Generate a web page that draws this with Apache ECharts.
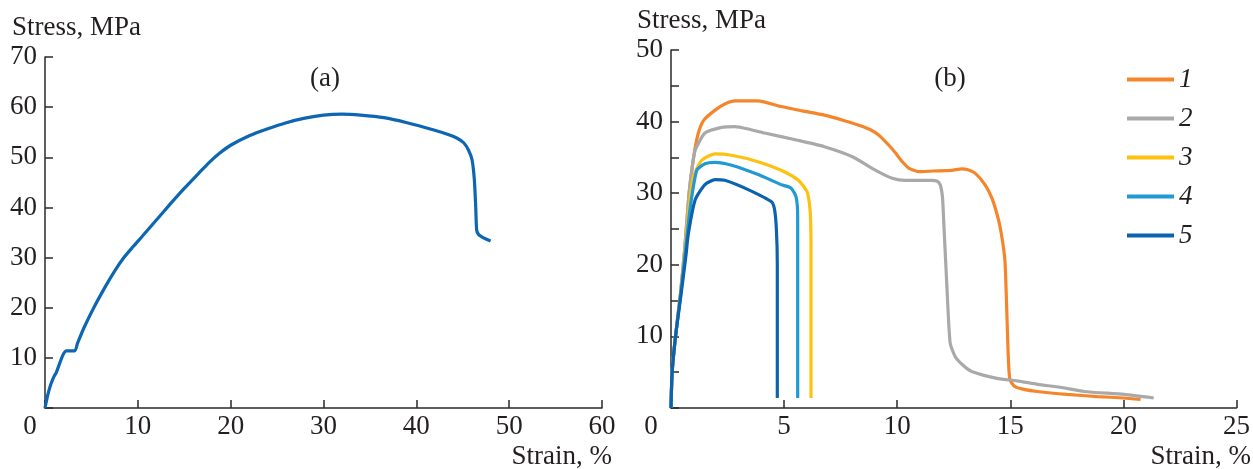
<!DOCTYPE html>
<html>
<head>
<meta charset="utf-8">
<script src="https://cdn.jsdelivr.net/npm/echarts@6/dist/echarts.min.js"></script>
<style>
html,body{margin:0;padding:0;background:#fff;}
#chart{width:1253px;height:469px;}
</style>
</head>
<body>
<div id="chart"></div>
<script>
// ---- data (strain %, stress MPa) ----
const curveA = [[0,0],[0.3,2.6],[0.6,4.6],[1.0,6.4],[1.2,7.0],[1.6,9.0],[2.0,10.8],[2.3,11.4],[3.2,11.4],[3.5,12.9],[4.2,16],[5.2,19.8],[6.5,24.2],[7.5,27.3],[8.5,30],[9.5,32.2],[10.5,34.3],[12,37.5],[13.5,40.7],[15,43.8],[16.5,46.7],[17.7,49],[18.8,50.8],[20,52.4],[22,54.3],[24,55.7],[26,56.9],[28,57.8],[30,58.4],[32,58.6],[34,58.4],[36.5,57.9],[39,56.9],[41.8,55.5],[43.5,54.5],[44.4,53.8],[45.1,52.9],[45.6,51.5],[46.0,49.5],[46.25,45.5],[46.4,40],[46.5,35.5],[46.7,34.6],[47.0,34.2],[47.5,33.7],[48.0,33.3]];

const curve1 = [[0,0],[0.05,5],[0.2,10],[0.42,16],[0.6,22],[0.8,30],[1.0,35],[1.2,38.3],[1.45,40.2],[1.95,41.6],[2.4,42.5],[2.82,42.9],[3.85,42.9],[4.87,42.1],[5.8,41.5],[6.78,40.9],[7.6,40.2],[8.31,39.5],[8.8,38.9],[9.19,38.1],[9.6,36.8],[9.93,35.6],[10.2,34.5],[10.51,33.5],[10.95,33.0],[11.6,33.1],[12.41,33.2],[12.85,33.4],[13.1,33.3],[13.44,32.8],[13.88,31.2],[14.2,29.2],[14.46,26.5],[14.6,24.4],[14.76,20.7],[14.83,15.1],[14.9,8.1],[14.98,4.0],[15.2,3.0],[15.6,2.6],[16.2,2.3],[17.5,1.9],[18.85,1.6],[20.0,1.4],[20.76,1.2]];
const curve2 = [[0,0],[0.05,5],[0.2,10],[0.42,16],[0.6,22],[0.8,30],[0.95,34],[1.07,36.0],[1.5,38.4],[2.24,39.2],[2.82,39.3],[3.5,38.9],[4.14,38.4],[5.6,37.4],[6.78,36.5],[8.02,35.1],[9.05,33.2],[9.78,32.1],[10.36,31.8],[11.53,31.8],[11.75,31.7],[11.9,31.2],[12.0,29.5],[12.05,26.5],[12.19,17.4],[12.34,9.1],[12.56,7.2],[12.9,6.0],[13.29,5.1],[14.46,4.1],[15.3,3.8],[16.22,3.3],[17.2,2.9],[18.27,2.3],[20.03,1.9],[21.34,1.4]];
const curve3 = [[0,0],[0.05,5],[0.2,10],[0.42,16],[0.62,22],[0.8,28],[0.99,32.3],[1.36,34.6],[1.95,35.5],[2.68,35.3],[3.85,34.4],[4.87,33.2],[5.6,31.9],[5.9,30.8],[6.04,30.0],[6.16,27.2],[6.19,22.1],[6.19,1.4]];
const curve4 = [[0,0],[0.05,5],[0.2,10],[0.43,16],[0.64,22],[0.85,28],[1.14,33.2],[1.5,34.1],[1.95,34.3],[2.68,33.9],[3.85,32.6],[4.87,31.2],[5.31,30.7],[5.53,29.5],[5.6,26.7],[5.6,1.4]];
const curve5 = [[0,0],[0.05,5],[0.2,10],[0.45,16],[0.65,21],[0.77,24.4],[1.07,29.1],[1.5,31.2],[1.95,31.9],[2.38,31.8],[3.41,30.5],[4.44,28.8],[4.58,27.7],[4.66,24.9],[4.7,20],[4.7,1.4]];

const seriesNamesB = ['1','2','3','4','5'];
const seriesB = [curve1, curve2, curve3, curve4, curve5];
const colorsB = ['#F5852A','#A9A9A9','#FDC20F','#2099D5','#0B63B0'];
const colorA = '#0C66B3';

// ---- chart ----
const FONT = '"Liberation Serif", "Times New Roman", serif';
const FS = 27;
const TXT = '#231F20';
const AXC = '#2a2a2a';
const chart = echarts.init(document.getElementById('chart'), null, {renderer:'canvas'});

function xAxisCfg(gridIndex, max, interval, zeroShift){
  return {
    type:'value', gridIndex, min:0, max, interval,
    axisLine:{show:true, onZero:false, lineStyle:{color:AXC, width:1.5}},
    axisTick:{show:true, inside:true, length:8, lineStyle:{color:AXC, width:1.5}},
    splitLine:{show:false},
    axisLabel:{
      color:TXT, fontFamily:FONT, fontSize:FS, margin:5,
      formatter: v => v === 0 ? '{z|0}' : String(v),
      rich:{ z:{fontFamily:FONT, fontSize:FS, color:TXT, padding:[0, zeroShift*2, 0, 0]} }
    }
  };
}
function yAxisCfg(gridIndex, max, interval, labelStep){
  return {
    type:'value', gridIndex, min:0, max, interval,
    axisLine:{show:true, onZero:false, lineStyle:{color:AXC, width:1.5}},
    axisTick:{show:true, inside:true, length:8, lineStyle:{color:AXC, width:1.5}},
    splitLine:{show:false},
    axisLabel:{
      color:TXT, fontFamily:FONT, fontSize:FS, margin:8,
      formatter: v => (v !== 0 && Math.round(v) % labelStep === 0) ? String(v) : ''
    }
  };
}

const series = [{
  type:'line', xAxisIndex:0, yAxisIndex:0, data:curveA, showSymbol:false,
  lineStyle:{color:colorA, width:3.2}, itemStyle:{color:colorA}, smooth:0.25, silent:true
}];
seriesB.forEach((d,i) => series.push({
  name: seriesNamesB[i], type:'line', xAxisIndex:1, yAxisIndex:1, data:d, showSymbol:false,
  lineStyle:{color:colorsB[i], width:3.2}, itemStyle:{color:colorsB[i]}, smooth:0.2, silent:true
}));

chart.setOption({
  animation:false,
  backgroundColor:'#fff',
  grid:[
    {left:45, top:57, width:557, height:351},
    {left:671, top:50, width:569, height:358}
  ],
  xAxis:[ xAxisCfg(0, 60, 10, 15), xAxisCfg(1, 25, 5, 20) ],
  yAxis:[ yAxisCfg(0, 70, 10, 10), yAxisCfg(1, 50, 5, 10) ],
  legend:{
    show:true, orient:'vertical', left:1127, top:66, padding:0,
    itemWidth:47, itemHeight:4, itemGap:12, icon:'rect',
    data: seriesNamesB,
    textStyle:{fontFamily:FONT, fontStyle:'italic', fontSize:FS, color:TXT, lineHeight:27}
  },
  graphic:[
    {type:'text', x:12, y:28, style:{text:'Stress, MPa', font:FS+'px '+FONT, fill:TXT, verticalAlign:'middle'}},
    {type:'text', x:637, y:21, style:{text:'Stress, MPa', font:FS+'px '+FONT, fill:TXT, verticalAlign:'middle'}},
    {type:'text', x:325, y:79, style:{text:'(a)', font:FS+'px '+FONT, fill:TXT, align:'center', verticalAlign:'middle'}},
    {type:'text', x:950, y:79, style:{text:'(b)', font:FS+'px '+FONT, fill:TXT, align:'center', verticalAlign:'middle'}},
    {type:'text', x:612, y:457, style:{text:'Strain, %', font:FS+'px '+FONT, fill:TXT, align:'right', verticalAlign:'middle'}},
    {type:'text', x:1251, y:457, style:{text:'Strain, %', font:FS+'px '+FONT, fill:TXT, align:'right', verticalAlign:'middle'}}
  ],
  series
});
</script>
</body>
</html>
